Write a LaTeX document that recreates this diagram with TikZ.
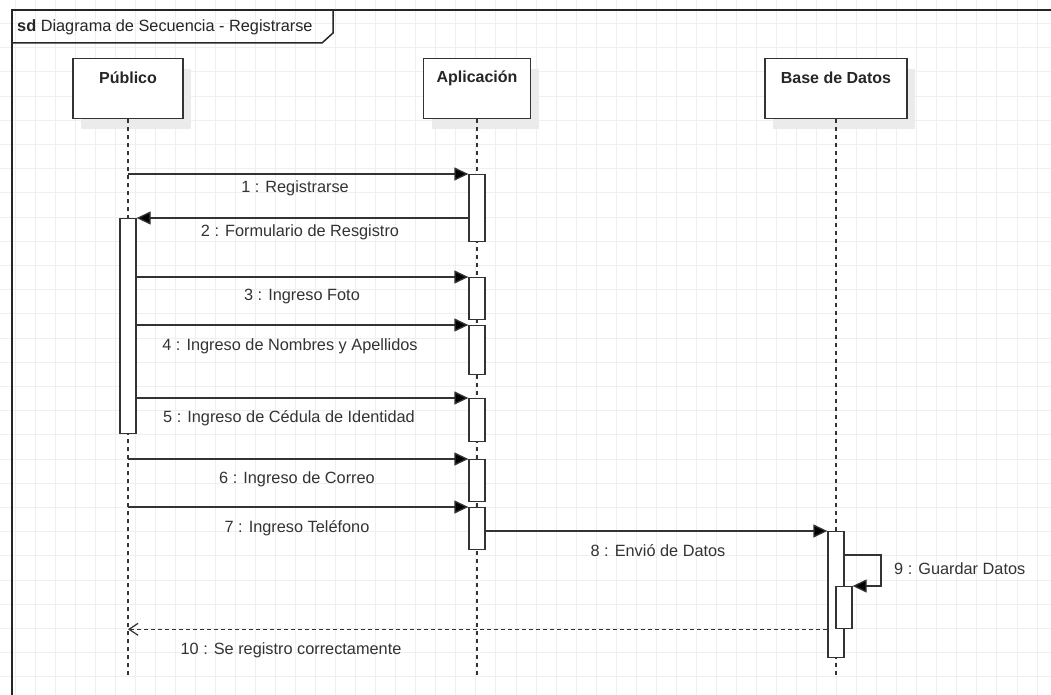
\documentclass[tikz,border=0pt]{standalone}
\usepackage{fontspec}
\setmainfont{Liberation Sans}
\usetikzlibrary{arrows.meta,shadows}
\definecolor{ink}{HTML}{333333}
\definecolor{gridc}{HTML}{EFEFEF}
\definecolor{shade}{HTML}{EBEBEB}
\begin{document}
\begin{tikzpicture}[x=1pt,y=-1pt,
  font=\fontsize{16.3}{19}\selectfont,
  head/.style={draw=ink, line width=1.4pt, fill=white, minimum height=60pt, inner sep=0pt, anchor=north,
    general shadow={fill=shade, shadow xshift=8pt, shadow yshift=-10pt}},
  headtxt/.style={font=\fontsize{16}{19}\selectfont\bfseries, text=black!85, inner sep=0pt},
  bar/.style={draw=ink, line width=1.3pt, fill=white, minimum width=16pt, inner sep=0pt, anchor=north},
  lifeline/.style={draw=ink, line width=1.2pt, dash pattern=on 4pt off 4pt},
  msg/.style={draw=ink, line width=1.3pt, -{Triangle[length=14pt,width=13pt,fill=black]}},
  reply/.style={draw=ink, line width=1.2pt, dash pattern=on 4pt off 3pt, -{Straight Barb[length=9pt,width=12pt]}},
  lbl/.style={text=ink, inner sep=0pt},
  gridline/.style={draw=gridc, line width=1pt},
  frame/.style={draw=black!85, line width=1.5pt},
]
\useasboundingbox (0,0) rectangle (1051,695);
\fill[white] (0,0) rectangle (1051,695);

% background grid
\foreach \i in {0,...,51} \draw[gridline] ({15+20.04*\i},0) -- ({15+20.04*\i},695);
\foreach \j in {0,...,28} \draw[gridline] (0,{23.5+24.2*\j}) -- (1051,{23.5+24.2*\j});

% sd frame and its name tab
\draw[frame] (1051,10) -- (12,10) -- (12,695);
\draw[frame] (12,43) -- (322,43) -- (333,33) -- (333,10);
\node[anchor=west, text=black!85, inner sep=0pt] (title) at (17,27) {\textbf{sd} Diagrama de Secuencia - Registrarse};

% lifeline heads
\node[head, minimum width=110pt] (pub) at (128,58) {};
\node[head, minimum width=107pt] (app) at (477,58) {};
\node[head, minimum width=142pt] (db) at (836,58) {};
\node[headtxt] at ([yshift=-20pt]pub.north) {Público};
\node[headtxt] at ([yshift=-20pt]app.north) {Aplicación};
\node[headtxt] at ([yshift=-20pt]db.north) {Base de Datos};

% lifelines
\coordinate (pubend) at (128,678);
\coordinate (append) at (477,678);
\coordinate (dbend) at (836,678);
\draw[lifeline] (pub.south) -- (pubend);
\draw[lifeline] (app.south) -- (append);
\draw[lifeline] (db.south) -- (dbend);

% activation bars
\node[bar, minimum height=215pt] (pb) at (128,218) {};
\node[bar, minimum height=67pt] (a1) at (477,174) {};
\node[bar, minimum height=42pt] (a3) at (477,277) {};
\node[bar, minimum height=49pt] (a4) at (477,325) {};
\node[bar, minimum height=43pt] (a5) at (477,398) {};
\node[bar, minimum height=42pt] (a6) at (477,459) {};
\node[bar, minimum height=42pt] (a7) at (477,507) {};
\node[bar, minimum height=126pt] (dbb) at (836,531) {};
\node[bar, minimum height=42pt] (nb) at (844,586) {};

% messages
\draw[msg] (pub.south |- a1.north) -- (a1.north west);
\node[lbl] at (295,188) {1 : Registrarse};
\draw[msg] (a1.west |- pb.north) -- (pb.north east);
\node[lbl] at (300,232) {2 : Formulario de Resgistro};
\draw[msg] (pb.east |- a3.north) -- (a3.north west);
\node[lbl] at (302,296) {3 : Ingreso Foto};
\draw[msg] (pb.east |- a4.north) -- (a4.north west);
\node[lbl] at (290,346) {4 : Ingreso de Nombres y Apellidos};
\draw[msg] (pb.east |- a5.north) -- (a5.north west);
\node[lbl] at (289,418) {5 : Ingreso de Cédula de Identidad};
\draw[msg] (pub.south |- a6.north) -- (a6.north west);
\node[lbl] at (297,479) {6 : Ingreso de Correo};
\draw[msg] (pub.south |- a7.north) -- (a7.north west);
\node[lbl] at (297,528) {7 : Ingreso Teléfono};
\draw[msg] (a7.east |- dbb.north) -- (dbb.north west);
\node[lbl] at (658,551) {8 : Envió de Datos};

% self call
\coordinate (selfout) at (881,555);
\draw[msg] (dbb.east |- selfout) -- (selfout) -- (selfout |- nb.north) -- (nb.north east);
\node[lbl, anchor=west] at (894,569) {9 : Guardar Datos};

% reply
\draw[reply] (dbb.west |- nb.south) -- (pub.south |- nb.south);
\node[lbl] at (291,650) {10 : Se registro correctamente};
\end{tikzpicture}
\end{document}
